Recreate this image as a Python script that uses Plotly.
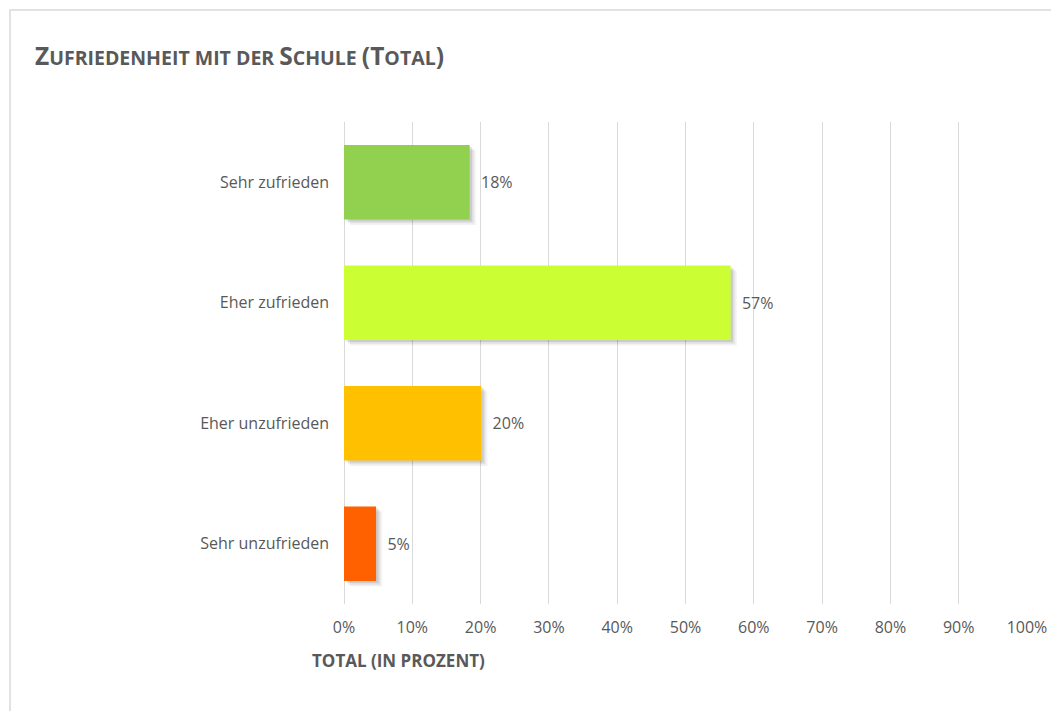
import plotly.graph_objects as go

categories = ["Sehr zufrieden", "Eher zufrieden", "Eher unzufrieden", "Sehr unzufrieden"]
values = [18.4, 56.6, 20.1, 4.7]
labels = ["18%", "57%", "20%", "5%"]
colors = ["#92D050", "#CCFF33", "#FFC000", "#FF6000"]
tick_vals = [0, 10, 20, 30, 40, 50, 60, 70, 80, 90, 100]
tick_text = ["0%", "10%", "20%", "30%", "40%", "50%", "60%", "70%", "80%", "90%", "100%"]

OFF = 8  # page body margin
W, H = 1059 - OFF, 711 - OFF
L, R, T, B = 344 - OFF, 30, 122 - OFF, 107
pw, ph = W - L - R, H - T - B

def px(xpage):
    return (xpage - OFF - L) / pw

def py(ypage):
    return (H - B - (ypage - OFF)) / ph

FONT = "Open Sans, Liberation Sans, sans-serif"
GRAY = "#595959"

fig = go.Figure()
# soft drop shadow (layered), offset to the lower right
for b, a, o in [(0.9, 0.05, -0.355), (0.6, 0.07, -0.34), (0.35, 0.09, -0.325)]:
    fig.add_trace(go.Bar(
        y=categories, x=values, base=b, orientation="h",
        marker=dict(color=f"rgba(0,0,0,{a})", line=dict(width=0)),
        width=0.62, offset=o, hoverinfo="skip", showlegend=False,
    ))
fig.add_trace(go.Bar(
    y=categories, x=values, orientation="h",
    marker=dict(color=colors, line=dict(width=0)),
    width=0.62, text=["  " + t for t in labels], textposition="outside",
    cliponaxis=False,
    textfont=dict(family=FONT, size=16, color=GRAY),
    showlegend=False,
))

fig.update_layout(
    width=W, height=H,
    margin=dict(l=L, r=R, t=T, b=B),
    paper_bgcolor="white", plot_bgcolor="white",
    barmode="overlay",
    font=dict(family=FONT, color=GRAY, size=16),
    xaxis=dict(
        range=[0, 100], tickvals=tick_vals, ticktext=tick_text,
        showgrid=True, gridcolor="#D9D9D9", gridwidth=1.3,
        zeroline=True, zerolinecolor="#D9D9D9", zerolinewidth=1.3,
        showline=False, ticks="", ticklen=0, ticklabelstandoff=12,
        tickfont=dict(family=FONT, size=16, color=GRAY),
    ),
    yaxis=dict(
        categoryorder="array", categoryarray=categories[::-1],
        showgrid=False, showline=False, ticks="", ticklabelstandoff=14,
        tickfont=dict(family=FONT, size=16, color=GRAY),
    ),
    shapes=[dict(
        type="rect", xref="paper", yref="paper",
        x0=px(9), x1=px(1059 + 30),
        y0=py(711 + 30), y1=py(10),
        line=dict(color="#D9D9D9", width=1.5), fillcolor="rgba(0,0,0,0)", layer="below",
    )],
    annotations=[
        dict(
            text=("<b>Z<span style='font-size:19.5px'>UFRIEDENHEIT MIT DER </span>S"
                  "<span style='font-size:19.5px'>CHULE </span>(T<span style='font-size:19.5px'>OTAL</span>)</b>"),
            xref="paper", yref="paper",
            x=px(32), y=py(55),
            xanchor="left", yanchor="middle", showarrow=False,
            font=dict(family=FONT, size=24.5, color=GRAY),
        ),
        dict(
            text="<b>TOTAL (IN PROZENT)</b>",
            xref="paper", yref="paper",
            x=px(310), y=py(660),
            xanchor="left", yanchor="middle", showarrow=False,
            font=dict(family=FONT, size=17, color=GRAY),
        ),
    ],
)

fig.write_html("out.html")
